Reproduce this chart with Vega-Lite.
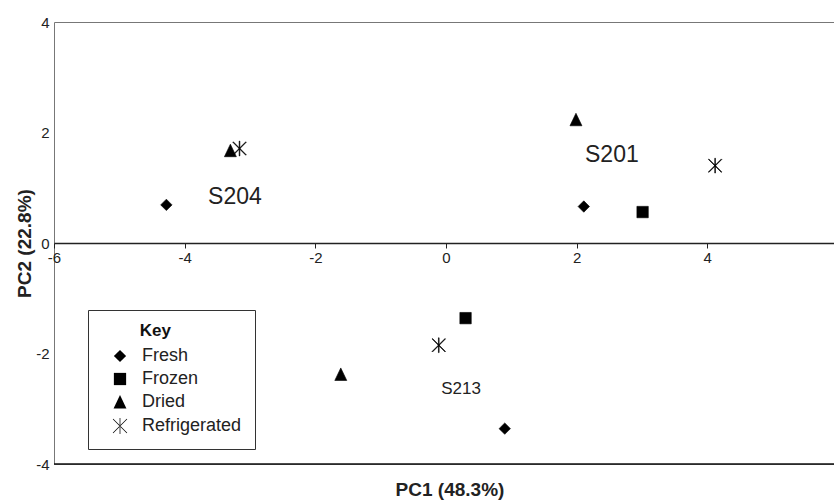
{
  "$schema": "https://vega.github.io/schema/vega-lite/v6.json",
  "width": 780,
  "height": 442,
  "autosize": {"type": "none"},
  "padding": {"left": 54, "top": 22, "right": 0, "bottom": 36},
  "background": "white",
  "config": {
    "view": {"stroke": "#777", "strokeWidth": 1},
    "font": "Liberation Sans",
    "axis": {"labelFont": "Liberation Sans", "titleFont": "Liberation Sans", "grid": false}
  },
  "title": {
    "text": "PC1 (48.3%)",
    "orient": "bottom",
    "anchor": "middle",
    "font": "Liberation Sans",
    "fontSize": 19,
    "fontWeight": "bold",
    "color": "#222",
    "offset": 9,
    "dx": 6
  },
  "datasets": {
    "points": [
      {"sample": "S204", "type": "Fresh", "pc1": -4.28, "pc2": 0.69},
      {"sample": "S204", "type": "Dried", "pc1": -3.30, "pc2": 1.67},
      {"sample": "S204", "type": "Refrigerated", "pc1": -3.16, "pc2": 1.71},
      {"sample": "S201", "type": "Dried", "pc1": 1.99, "pc2": 2.23},
      {"sample": "S201", "type": "Fresh", "pc1": 2.11, "pc2": 0.66},
      {"sample": "S201", "type": "Frozen", "pc1": 3.01, "pc2": 0.56},
      {"sample": "S201", "type": "Refrigerated", "pc1": 4.12, "pc2": 1.40},
      {"sample": "S213", "type": "Frozen", "pc1": 0.30, "pc2": -1.36},
      {"sample": "S213", "type": "Refrigerated", "pc1": -0.11, "pc2": -1.85},
      {"sample": "S213", "type": "Dried", "pc1": -1.61, "pc2": -2.38},
      {"sample": "S213", "type": "Fresh", "pc1": 0.90, "pc2": -3.36}
    ],
    "labels": [
      {"label": "S204", "pc1": -3.23, "pc2": 0.83},
      {"label": "S201", "pc1": 2.54, "pc2": 1.59},
      {"label": "S213", "pc1": 0.23, "pc2": -2.64}
    ]
  },
  "layer": [
    {
      "data": {"values": [{"edge": "bottom"}]},
      "mark": {"type": "rule", "color": "#111", "strokeWidth": 1.6},
      "encoding": {
        "y": {"datum": -4, "type": "quantitative", "scale": {"domain": [-4, 4], "nice": false, "zero": false}}
      }
    },
    {
      "data": {"name": "labels"},
      "mark": {"type": "text", "align": "center", "baseline": "middle", "color": "#222", "font": "Liberation Sans"},
      "encoding": {
        "x": {"field": "pc1", "type": "quantitative"},
        "y": {"field": "pc2", "type": "quantitative"},
        "text": {"field": "label"},
        "size": {"field": "label", "type": "nominal", "scale": {"type": "ordinal", "domain": ["S204", "S201", "S213"], "range": [23, 23, 17]}, "legend": null}
      }
    },
    {
      "data": {"name": "points"},
      "mark": {"type": "point", "filled": true, "color": "black", "fill": "black", "fillOpacity": 1, "stroke": "black", "strokeWidth": 0.6, "opacity": 1, "size": 130},
      "encoding": {
        "x": {
          "field": "pc1",
          "type": "quantitative",
          "scale": {"domain": [-6, 5.94], "nice": false, "zero": false},
          "axis": {
            "values": [-6, -4, -2, 0, 2, 4],
            "labelExpr": "'' + datum.value",
            "offset": -221,
            "title": null,
            "domainColor": "#222",
            "domainWidth": 1.5,
            "tickColor": "#222",
            "tickSize": 5,
            "labelPadding": 2,
            "labelFontSize": 15,
            "labelColor": "#222",
            "labelFlush": false
          }
        },
        "y": {
          "field": "pc2",
          "type": "quantitative",
          "scale": {"domain": [-4, 4], "nice": false, "zero": false},
          "axis": {
            "values": [-4, -2, 0, 2, 4],
            "labelExpr": "'' + datum.value",
            "ticks": false,
            "domain": false,
            "labelPadding": 5,
            "labelFontSize": 15,
            "labelColor": "#222",
            "title": "PC2 (22.8%)",
            "titleFontSize": 19,
            "titleFontWeight": "bold",
            "titleColor": "#222",
            "titlePadding": 1
          }
        },
        "shape": {
          "field": "type",
          "type": "nominal",
          "scale": {
            "domain": ["Fresh", "Frozen", "Dried", "Refrigerated"],
            "range": [
              "diamond",
              "square",
              "M0,-1.15L-1.05,1.05L1.05,1.05Z",
              "M-0.06,-1.3L0.06,-1.3L0.06,1.3L-0.06,1.3ZM-1.182,-1.098L1.098,1.182L1.182,1.098L-1.098,-1.182ZM-1.098,1.182L1.182,-1.098L1.098,-1.182L-1.182,1.098Z"
            ]
          },
          "legend": {
            "title": "Key",
            "orient": "none",
            "legendX": 34,
            "legendY": 288,
            "padding": 13,
            "strokeColor": "#333",
            "fillColor": "white",
            "titleFont": "Liberation Sans",
            "titleFontSize": 17,
            "titleFontWeight": "bold",
            "titleColor": "#111",
            "titleAnchor": "middle",
            "titleAlign": "right",
            "titlePadding": 7,
            "labelFont": "Liberation Sans",
            "labelFontSize": 18,
            "labelColor": "#222",
            "labelOffset": 13,
            "symbolOffset": 10,
            "symbolSize": 150,
            "symbolFillColor": "black",
            "symbolStrokeColor": "black",
            "symbolStrokeWidth": 0.6,
            "symbolOpacity": 1,
            "rowPadding": 5
          }
        }
      }
    }
  ]
}
